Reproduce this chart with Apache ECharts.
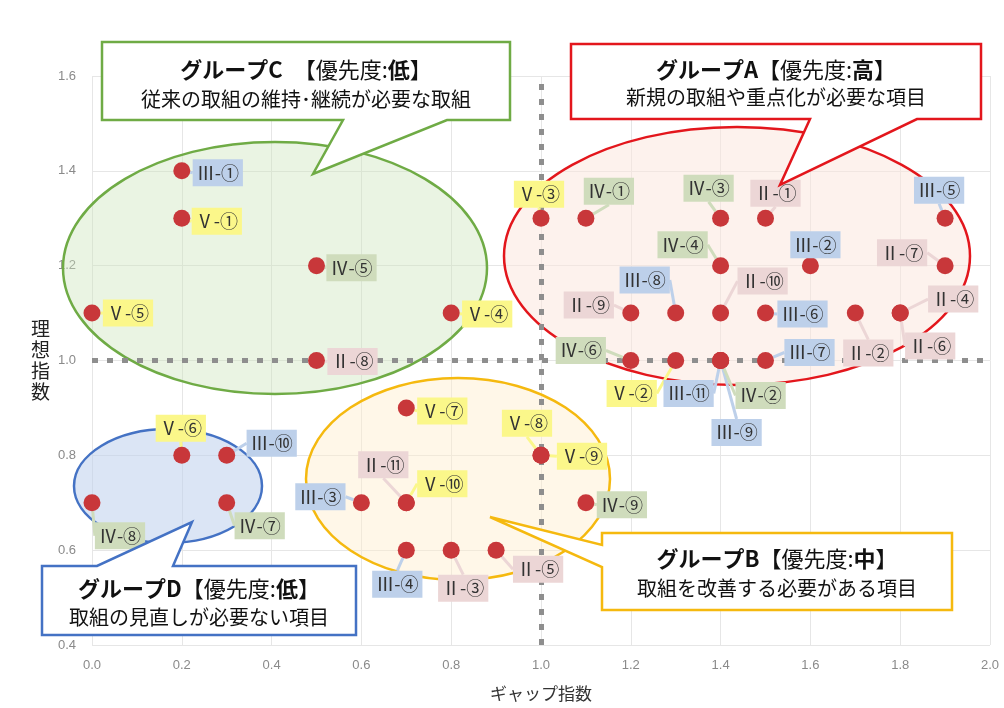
<!DOCTYPE html>
<html>
<head>
<meta charset="utf-8">
<script src="https://cdn.jsdelivr.net/npm/echarts@6/dist/echarts.min.js"></script>
<style>
    html, body { margin: 0; padding: 0; background: #fff; }
    #chart { width: 1004px; height: 708px; }
</style>
</head>
<body>
<div id="chart"></div>
<script>
// 項目名・ギャップ指数・理想指数
const itemNames = [
    "Ⅲ-①", "Ⅴ-①", "Ⅳ-⑤", "Ⅴ-⑤", "Ⅴ-④", "Ⅱ-⑧",
    "Ⅴ-③", "Ⅳ-①", "Ⅳ-③", "Ⅱ-①", "Ⅲ-⑤", "Ⅳ-④", "Ⅲ-②", "Ⅱ-⑦",
    "Ⅲ-⑧", "Ⅱ-⑩", "Ⅱ-⑨", "Ⅲ-⑥", "Ⅱ-④", "Ⅱ-⑥", "Ⅱ-②",
    "Ⅲ-⑦", "Ⅳ-⑥", "Ⅴ-②", "Ⅲ-⑪", "Ⅳ-②", "Ⅲ-⑨",
    "Ⅴ-⑦", "Ⅱ-⑪", "Ⅴ-⑩", "Ⅲ-③", "Ⅲ-④", "Ⅱ-③", "Ⅱ-⑤", "Ⅴ-⑧", "Ⅴ-⑨", "Ⅳ-⑨",
    "Ⅴ-⑥", "Ⅲ-⑩", "Ⅳ-⑧", "Ⅳ-⑦"
];
const gapIndex = [
    0.2, 0.2, 0.5, 0.0, 0.8, 0.5,
    1.0, 1.1, 1.4, 1.5, 1.9, 1.4, 1.6, 1.9,
    1.3, 1.4, 1.2, 1.5, 1.8, 1.8, 1.7,
    1.5, 1.2, 1.3, 1.4, 1.4, 1.4,
    0.7, 0.7, 0.7, 0.6, 0.7, 0.8, 0.9, 1.0, 1.0, 1.1,
    0.2, 0.3, 0.0, 0.3
];
const idealIndex = [
    1.4, 1.3, 1.2, 1.1, 1.1, 1.0,
    1.3, 1.3, 1.3, 1.3, 1.3, 1.2, 1.2, 1.2,
    1.1, 1.1, 1.1, 1.1, 1.1, 1.1, 1.1,
    1.0, 1.0, 1.0, 1.0, 1.0, 1.0,
    0.9, 0.7, 0.7, 0.7, 0.6, 0.6, 0.6, 0.8, 0.8, 0.7,
    0.8, 0.8, 0.7, 0.7
];
const xTicks = [0.0, 0.2, 0.4, 0.6, 0.8, 1.0, 1.2, 1.4, 1.6, 1.8, 2.0];
const yTicks = [0.4, 0.6, 0.8, 1.0, 1.2, 1.4, 1.6];

// ラベルの位置（点からのずらし量 px）
const labelOffsets = [
    [36, 2], [35, 3], [35, 2], [36, 0], [36, 1], [36, 1],
    [-2, -24], [23, -27], [-12, -30], [10, -25], [-6, -28], [-38, -21], [5, -21], [-43, -13],
    [-31, -33], [42, -32], [-42, -8], [37, 1], [53, -14], [30, 33], [13, 40],
    [44, -8], [-50, -10], [-44, 33], [-32, 33], [40, 35], [16, 72],
    [36, 3], [-23, -38], [36, -19], [-41, -6], [-9, 34], [12, 38], [42, 19], [-14, -32], [41, 1], [36, 2],
    [-1, -27], [45, -12], [28, 33], [33, 23]
];

const groups = [
    {key: "Ⅱ", bg: "#ecd6d6"},
    {key: "Ⅲ", bg: "#bdd0ea"},
    {key: "Ⅳ", bg: "#cfdcbc"},
    {key: "Ⅴ", bg: "#fbf78a"}
];

const CJK = '"Noto Sans CJK JP", "Noto Sans", sans-serif';

function buildSeries() {
    return groups.map(function (g) {
        const data = [], offs = [];
        itemNames.forEach(function (name, i) {
            if (name.charAt(0) === g.key) {
                data.push({name: name, value: [gapIndex[i], idealIndex[i]]});
                offs.push(labelOffsets[i]);
            }
        });
        return {
            type: 'scatter',
            name: g.key,
            z: 3,
            symbolSize: 17,
            itemStyle: {color: '#c8373a', opacity: 1},
            data: data,
            label: {
                show: true,
                position: 'inside',
                formatter: '{b}',
                fontFamily: CJK,
                fontSize: 18,
                color: '#333',
                backgroundColor: g.bg,
                padding: [5, 4, 4, 4]
            },
            labelLayout: function (params) {
                const o = offs[params.dataIndex];
                return {dx: o[0], dy: o[1]};
            },
            labelLine: {
                show: true,
                lineStyle: {color: g.bg, width: 3}
            },
            emphasis: {disabled: true}
        };
    });
}

function callout(points, color, cx, y1, y2, title, sub) {
    return [{
        type: 'polygon',
        z: 20,
        shape: {points: points},
        style: {fill: '#fff', stroke: color, lineWidth: 2.5}
    }, {
        type: 'text',
        z: 21,
        x: cx, y: y1,
        style: {
            text: title,
            align: 'center', verticalAlign: 'middle',
            rich: {
                b: {fontFamily: CJK, fontSize: 22, fontWeight: 'bold', fill: '#111'},
                n: {fontFamily: CJK, fontSize: 22, fill: '#111'}
            }
        }
    }, {
        type: 'text',
        z: 21,
        x: cx, y: y2,
        style: {
            text: sub,
            align: 'center', verticalAlign: 'middle',
            fontFamily: CJK, fontSize: 20, fill: '#111'
        }
    }];
}

function ellipse(cx, cy, rx, ry, stroke, fill) {
    return {
        type: 'ellipse',
        z: 1,
        shape: {cx: cx, cy: cy, rx: rx, ry: ry},
        style: {fill: fill, stroke: stroke, lineWidth: 2.5}
    };
}

const chart = echarts.init(document.getElementById('chart'));

const calloutC = callout([[102, 42], [510, 42], [510, 120], [447, 120], [313, 174], [343, 120], [102, 120]], '#6fab45', 306, 70, 99,
    '{b|グループC}{n|　【優先度:}{b|低}{n|】}', '従来の取組の維持･継続が必要な取組');
const calloutA = callout([[571, 44], [981, 44], [981, 119], [917, 119], [780, 185], [810, 119], [571, 119]], '#e3161c', 776, 70, 97,
    '{b|グループA}{n|【優先度:}{b|高}{n|】}', '新規の取組や重点化が必要な項目');
const calloutB = callout([[602, 533], [952, 533], [952, 610], [602, 610], [602, 567], [490, 517], [602, 545]], '#f5b90f', 777, 559, 588,
    '{b|グループB}{n|【優先度:}{b|中}{n|】}', '取組を改善する必要がある項目');
const calloutD = callout([[42, 566], [97, 566], [192, 522], [173, 566], [356, 566], [356, 635], [42, 635]], '#4472c4', 199, 589, 617,
    '{b|グループD}{n|【優先度:}{b|低}{n|】}', '取組の見直しが必要ない項目');

const series = buildSeries();
// 1.0 の区切り線
series.push({
    type: 'scatter',
    z: 2,
    data: [],
    silent: true,
    markLine: {
        z: 2,
        silent: true,
        symbol: 'none',
        label: {show: false},
        lineStyle: {color: '#8e8e8e', width: 5, type: [6, 9]},
        data: [{xAxis: 1.0}, {yAxis: 1.0}]
    }
});

chart.setOption({
    backgroundColor: '#fff',
    animation: false,
    grid: {left: 92, right: 14, top: 76, bottom: 63},
    xAxis: {
        type: 'value',
        min: xTicks[0], max: xTicks[xTicks.length - 1], interval: 0.2,
        name: 'ギャップ指数',
        nameLocation: 'middle',
        nameGap: 40,
        nameTextStyle: {fontFamily: CJK, fontSize: 17, color: '#333'},
        axisLine: {show: false},
        axisTick: {show: false},
        axisLabel: {
            color: '#8a8a8a', fontSize: 13, margin: 14,
            formatter: function (v) { return v.toFixed(1); }
        },
        splitLine: {lineStyle: {color: '#e6e6e6'}}
    },
    yAxis: {
        type: 'value',
        min: yTicks[0], max: yTicks[yTicks.length - 1], interval: 0.2,
        name: '理\n想\n指\n数',
        nameLocation: 'middle',
        nameRotate: 0,
        nameGap: 42,
        nameTextStyle: {fontFamily: CJK, fontSize: 19, color: '#222', lineHeight: 21},
        axisLine: {show: false},
        axisTick: {show: false},
        axisLabel: {
            color: '#8a8a8a', fontSize: 13, margin: 16,
            formatter: function (v) { return v.toFixed(1); }
        },
        splitLine: {lineStyle: {color: '#e6e6e6'}}
    },
    graphic: [
        ellipse(275, 268, 212, 126, '#6fab45', 'rgba(204,228,188,0.42)'),
        ellipse(737, 256, 233, 129, '#e3161c', 'rgba(251,229,220,0.5)'),
        ellipse(458, 479, 152, 101, '#f5b90f', 'rgba(255,238,205,0.45)'),
        ellipse(168, 486, 94, 57, '#4472c4', 'rgba(190,207,236,0.55)')
    ].concat(calloutC, calloutA, calloutB, calloutD),
    series: series
});
</script>
</body>
</html>
